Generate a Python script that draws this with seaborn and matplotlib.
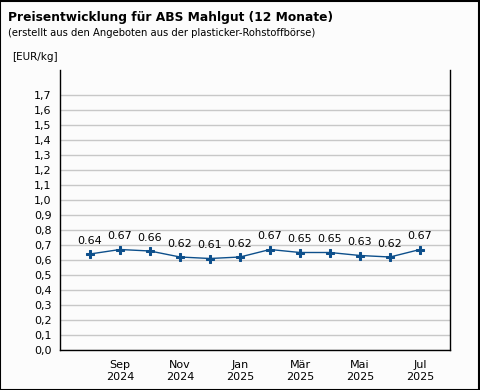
import matplotlib
matplotlib.use("Agg")
import matplotlib.pyplot as plt
import seaborn as sns
import numpy as np
from matplotlib.patches import Rectangle

months = ["Aug 2024", "Sep 2024", "Okt 2024", "Nov 2024", "Dez 2024", "Jan 2025",
          "Feb 2025", "Mär 2025", "Apr 2025", "Mai 2025", "Jun 2025", "Jul 2025"]
prices = [0.64, 0.67, 0.66, 0.62, 0.61, 0.62, 0.67, 0.65, 0.65, 0.63, 0.62, 0.67]
xlabels = ["Sep\n2024", "Nov\n2024", "Jan\n2025", "Mär\n2025", "Mai\n2025", "Jul\n2025"]
yticks = [round(0.1 * i, 1) for i in range(18)]

sns.set_style("white")
plt.rcParams['font.family'] = ['DejaVu Sans']
plt.rcParams['text.color'] = 'black'
plt.rcParams['xtick.color'] = 'black'
plt.rcParams['ytick.color'] = 'black'
plt.rcParams['xtick.labelcolor'] = 'black'
plt.rcParams['ytick.labelcolor'] = 'black'

fig = plt.figure(figsize=(4.8, 3.9), dpi=100)
fig.patch.set_facecolor("#fcfcfc")
fig.patches.append(Rectangle((0.001, 0.001), 0.997, 0.997, transform=fig.transFigure,
                             fill=False, edgecolor="black", linewidth=1.5))

ax = fig.add_axes([60/480, 1 - 350/390, 390/480, 280/390])
ax.set_facecolor("#fcfcfc")

idx = np.arange(len(prices))
col = "#0d4f8b"
sns.lineplot(x=idx, y=prices, ax=ax, color=col, linewidth=1.0, marker="P",
             markersize=5.5, markeredgecolor=col, markerfacecolor=col)

for i, v in zip(idx, prices):
    ax.annotate(f"{v:.2f}", (i, v), xytext=(0, 6), textcoords="offset points",
                ha="center", va="bottom", fontsize=8, color="black")

ax.set_xlim(-1, 12)
ax.set_ylim(0, 1.8667)
ax.set_yticks(yticks)
ax.set_yticklabels([f"{t:.1f}".replace(".", ",") for t in yticks], fontsize=8)
ax.yaxis.grid(True, color="#c8c8c8", linewidth=1)
ax.set_axisbelow(True)

ax.set_xticks([-1, 0, 2, 4, 6, 8, 10], minor=True)
ax.set_xticks([1, 3, 5, 7, 9, 11])
ax.set_xticklabels(xlabels, fontsize=8, linespacing=1.3)
ax.tick_params(axis="x", which="major", length=0, pad=7)
ax.tick_params(axis="x", which="minor", length=5, width=1, color="black", direction="out")
ax.tick_params(axis="y", length=4, width=1, color="black", pad=2)

for s in ["left", "bottom", "right"]:
    ax.spines[s].set_visible(True)
    ax.spines[s].set_color("black")
    ax.spines[s].set_linewidth(1)
ax.spines["top"].set_visible(False)
ax.set_xlabel("")
ax.set_ylabel("")

fig.text(8/480, 1 - 17/390, "Preisentwicklung für ABS Mahlgut (12 Monate)",
         fontsize=8.8, fontweight="bold", va="center", ha="left", color="black")
fig.text(8/480, 1 - 33/390, "(erstellt aus den Angeboten aus der plasticker-Rohstoffbörse)",
         fontsize=7.2, va="center", ha="left", color="black")
fig.text(12/480, 1 - 57/390, "[EUR/kg]", fontsize=7.5, va="center", ha="left", color="black")

fig.savefig("out.png", dpi=100, facecolor=fig.get_facecolor())
